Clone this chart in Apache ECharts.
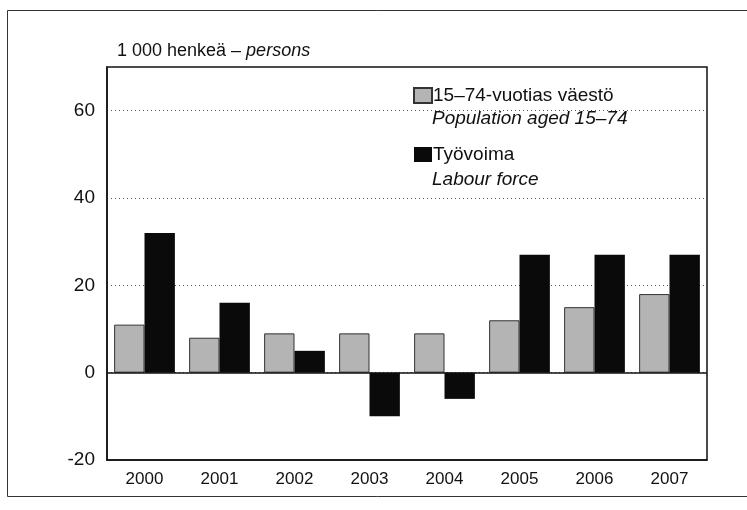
<!DOCTYPE html>
<html>
<head>
<meta charset="utf-8">
<script src="https://cdn.jsdelivr.net/npm/echarts@6/dist/echarts.min.js"></script>
<style>
  html, body { margin: 0; padding: 0; background: #fff; }
  #chart { width: 747px; height: 510px; }
</style>
</head>
<body>
<div id="chart"></div>
<script>
var years = ['2000', '2001', '2002', '2003', '2004', '2005', '2006', '2007']
var vaesto = [11, 8, 9, 9, 9, 12, 15, 18]
var tyovoima = [32, 16, 5, -10, -6, 27, 27, 27]
var seriesNames = ['15–74-vuotias väestö', 'Työvoima']
var seriesNamesEn = ['Population aged 15–74', 'Labour force']

var font = "'Liberation Sans', Arial, sans-serif"
var myChart = echarts.init(document.getElementById('chart'))

var option = {
  backgroundColor: '#fff',
  animation: false,
  textStyle: { fontFamily: font, color: '#111' },
  title: {
    text: '{a|1 000 henkeä – }{b|persons}',
    left: 112,
    top: 37,
    textStyle: {
      fontWeight: 'normal',
      rich: {
        a: { fontSize: 18, fontFamily: font, fontWeight: 'normal', color: '#111' },
        b: { fontSize: 18, fontFamily: font, fontWeight: 'normal', fontStyle: 'italic', color: '#111' }
      }
    }
  },
  legend: {
    orient: 'vertical',
    left: 408,
    top: 81,
    itemWidth: 18,
    itemHeight: 15,
    itemGap: 40,
    icon: 'rect',
    data: seriesNames,
    textStyle: { fontSize: 19, fontFamily: font, color: '#111', padding: [0, 0, 0, -4] }
  },
  graphic: [
    {
      type: 'rect',
      left: 5,
      top: 8,
      shape: { width: 760, height: 486 },
      style: { fill: 'none', stroke: '#333', lineWidth: 1 },
      silent: true
    },
    {
      type: 'text',
      left: 432,
      top: 109,
      style: { text: seriesNamesEn[0], fontSize: 19, fontFamily: font, fontStyle: 'italic', fill: '#111' }
    },
    {
      type: 'text',
      left: 432,
      top: 170,
      style: { text: seriesNamesEn[1], fontSize: 19, fontFamily: font, fontStyle: 'italic', fill: '#111' }
    }
  ],
  grid: {
    left: 107,
    right: 40,
    top: 67,
    bottom: 50,
    show: true,
    borderColor: '#111',
    borderWidth: 1.5
  },
  xAxis: {
    type: 'category',
    data: years,
    axisLine: { onZero: false, lineStyle: { color: '#111', width: 1.5 } },
    axisTick: { alignWithLabel: true, inside: true, length: 7, lineStyle: { color: '#111' } },
    axisLabel: { color: '#111', fontSize: 17, fontFamily: font, margin: 11 }
  },
  yAxis: {
    type: 'value',
    min: -20,
    max: 70,
    interval: 20,
    axisLine: { show: true, lineStyle: { color: '#111', width: 1.5 } },
    axisTick: { show: false },
    axisLabel: { color: '#111', fontSize: 19, fontFamily: font, margin: 12, showMaxLabel: false },
    splitLine: { show: true, lineStyle: { color: '#555', type: [1, 3], width: 1 } }
  },
  series: [
    {
      name: seriesNames[0],
      type: 'bar',
      data: vaesto,
      barGap: '0%',
      barCategoryGap: '19%',
      itemStyle: { color: '#b4b4b4', borderColor: '#333', borderWidth: 1 },
      markLine: {
        silent: true,
        symbol: 'none',
        label: { show: false },
        lineStyle: { color: '#111', type: 'solid', width: 1.5 },
        data: [{ yAxis: 0 }]
      }
    },
    {
      name: seriesNames[1],
      type: 'bar',
      data: tyovoima,
      itemStyle: { color: '#0a0a0a' }
    }
  ]
}

myChart.setOption(option)
</script>
</body>
</html>
